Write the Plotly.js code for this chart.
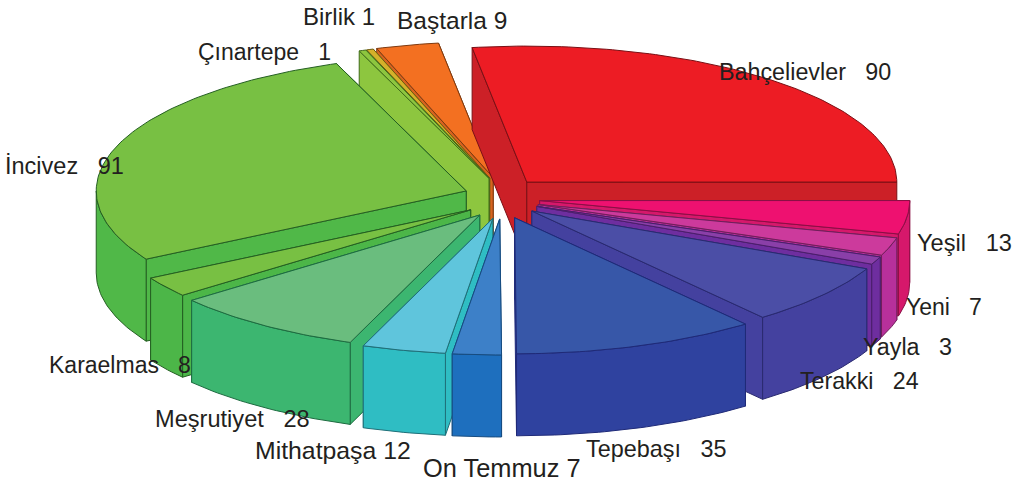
<!DOCTYPE html>
<html>
<head>
<meta charset="utf-8">
<script src="https://cdn.plot.ly/plotly-3.0.1.min.js"></script>
<style>html,body{margin:0;padding:0;background:#fff}#chart{width:1025px;height:485px}</style>
</head>
<body>
<div id="chart"></div>
<script>
// Neighbourhood counts, clockwise from the start of the pie
const categories = ["Bahçelievler","Yeşil","Yeni","Yayla","Terakki","Tepebaşı","On Temmuz","Mithatpaşa","Meşrutiyet","Karaelmas","İncivez","Çınartepe","Birlik","Baştarla"];
const counts = [90,13,7,3,24,35,7,12,28,8,91,1,1,9];

// Slice colours: top face, side walls, outlines
const topColors  = ["#ED1C24","#EE1170","#CC3A9C","#8A3FA8","#4B4EA6","#3757A8","#3D80C8","#5FC5DC","#6ABD7E","#78C043","#78C043","#8DC63F","#D4B12A","#F37021"];
const wallColors = ["#CC2027","#D6186B","#B7309B","#6E2E9F","#44419F","#2F429F","#1E6FBE","#2FBDC3","#3CB670","#4CB648","#50B848","#8DC63F","#C9A227","#D8631F"];
const edgeColors = ["#7A1015","#8A0F45","#701F5A","#4A1F6A","#2A2A70","#1F2A78","#174C80","#1F6F78","#1D6B40","#245F22","#245F22","#3F6B1A","#6E5A10","#7E3A10"];

// Paint order: back slices first, then down both sides towards the front
const paintOrder = [13,12,11,0,10,1,9,2,3,8,4,7,5,6];

// Label placement: gap between name and number, left edge, middle, font size
const labelGaps = [3,3,3,3,3,3,1,1,3,3,3,3,1,1];
const labelX    = [719,917,906,863,800,586,423,255,155,49,5,198,303,397];
const labelY    = [72,243,307,347,381,449,468,450,419,365,166,52,16,20];
const labelSize = [23.3,23.6,23,23.3,23.2,23.4,25.4,24.8,23.6,23,23.5,23,24,24.5];

// Projected pie geometry, in plot units
const centre = {x: 502, y: 198};
const radius = {x: 370, y: 136};
const explode = {x: 38, y: 21};
const depth = 82;
const startAngle = -8.5;
const total = counts.reduce((a, b) => a + b, 0);

const rad = d => d * Math.PI / 180;
const polygon = (pts, fill, line) => ({
  type: "scatter", mode: "lines", x: pts.map(p => p[0]), y: pts.map(p => p[1]),
  fill: "toself", fillcolor: fill, line: {color: line, width: 1},
  hoverinfo: "skip", showlegend: false
});

// Angular span of each slice
let running = 0;
const spans = counts.map(v => {
  const a0 = startAngle + running / total * 360;
  running += v;
  return [a0, startAngle + running / total * 360];
});

function sliceTraces(i) {
  const [a0, a1] = spans[i];
  const midDeg = (a0 + a1) / 2;
  const mid = rad(midDeg);
  const apex = [centre.x + explode.x * Math.sin(mid), centre.y - explode.y * Math.cos(mid)];
  const rim = a => [apex[0] + radius.x * Math.sin(rad(a)), apex[1] - radius.y * Math.cos(rad(a))];
  const down = p => [p[0], p[1] + depth];

  const arc = (from, to) => {
    const pts = [], n = Math.max(2, Math.ceil(Math.abs(to - from)));
    for (let k = 0; k <= n; k++) pts.push(rim(from + (to - from) * k / n));
    return pts;
  };
  const close = pts => pts.concat([pts[0]]);
  const out = [];

  // Cut faces: the one further from the viewer goes down first
  (midDeg > 180 ? [a1, a0] : [a0, a1]).forEach(a => {
    const r = rim(a);
    out.push(polygon(close([apex, r, down(r), down(apex)]), wallColors[i], edgeColors[i]));
  });

  // Outer curved wall, only where it faces the viewer
  const w0 = Math.max(a0, 90), w1 = Math.min(a1, 270);
  if (w1 > w0) {
    const top = arc(w0, w1);
    out.push(polygon(close(top.concat(top.slice().reverse().map(down))), wallColors[i], edgeColors[i]));
  }

  // Top face
  out.push(polygon(close([apex].concat(arc(a0, a1))), topColors[i], edgeColors[i]));
  return out;
}

const traces = paintOrder.flatMap(sliceTraces);

const annotations = categories.map((name, i) => ({
  x: labelX[i], y: labelY[i], xref: "x", yref: "y",
  xanchor: "left", yanchor: "middle", showarrow: false,
  borderpad: 0, borderwidth: 0,
  text: name + "\u00A0".repeat(labelGaps[i]) + counts[i],
  font: {family: "Liberation Sans, Arial, sans-serif", size: labelSize[i], color: "#231F20"}
}));

Plotly.newPlot("chart", traces, {
  width: 1025, height: 485,
  margin: {l: 0, r: 0, t: 0, b: 0},
  paper_bgcolor: "#fff", plot_bgcolor: "#fff",
  showlegend: false,
  xaxis: {range: [0, 1025], visible: false, fixedrange: true},
  yaxis: {range: [485, 0], visible: false, fixedrange: true},
  annotations
}, {displayModeBar: false, staticPlot: true});
</script>
</body>
</html>
